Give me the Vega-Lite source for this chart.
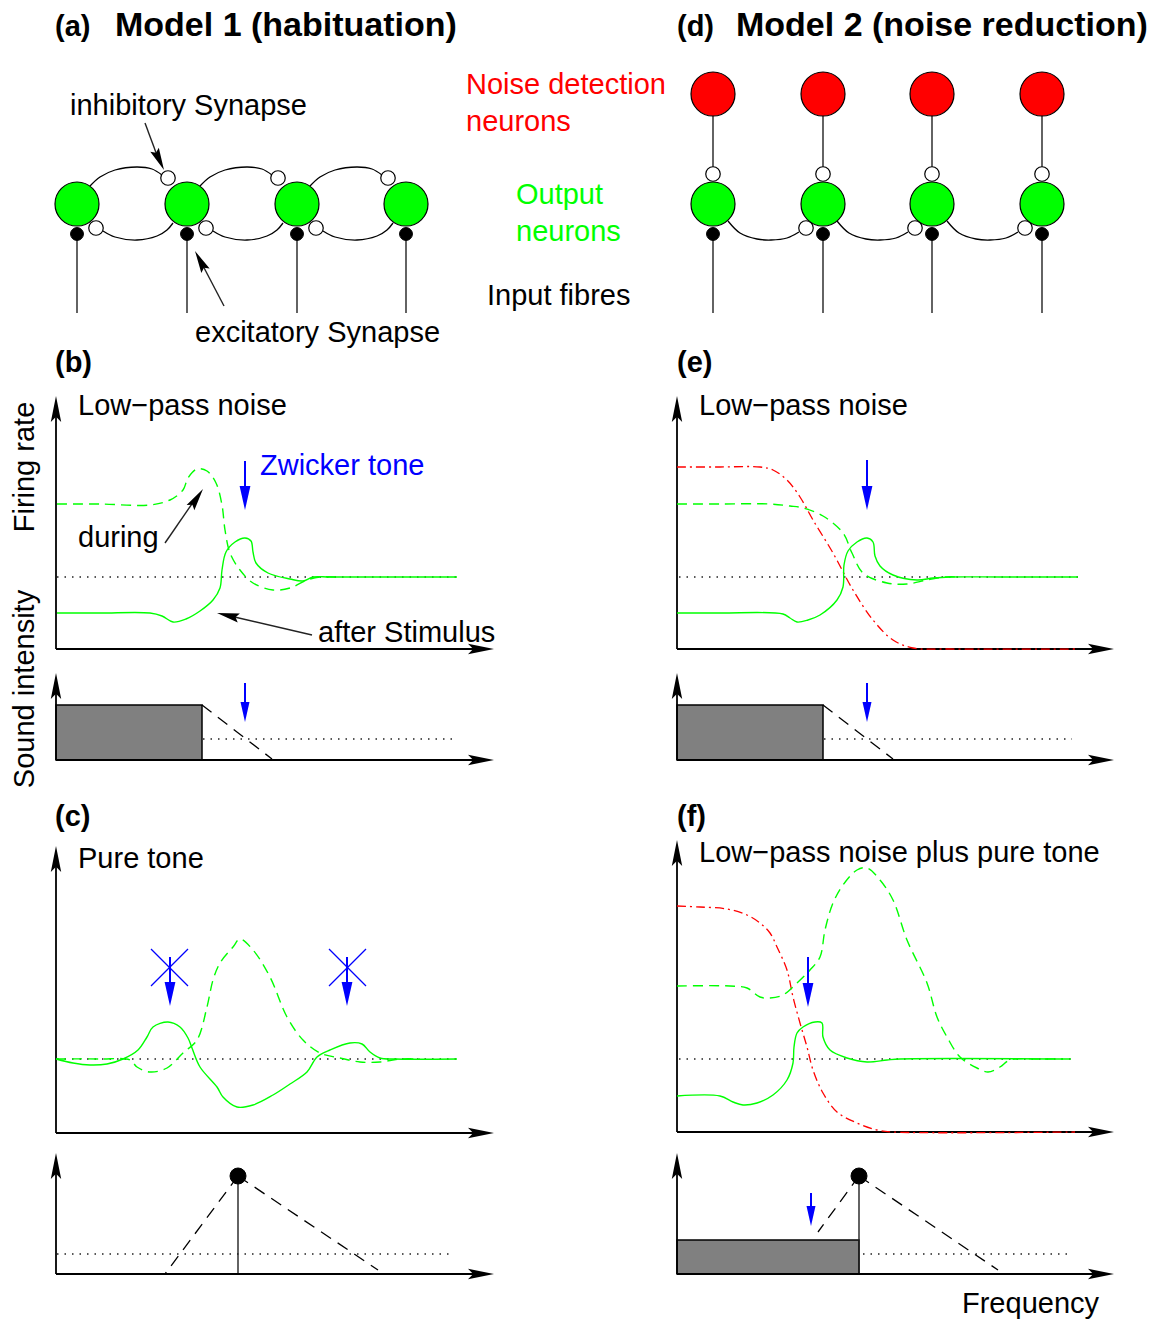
{
"$schema": "https://vega.github.io/schema/vega-lite/v6.json",
"width": 1151, "height": 1321, "padding": 0, "autosize": {"type": "none"},
"background": "white",
"config": {"view": {"stroke": null}},
"datasets": {
"rects": [
{"x":56,"x2":202,"y":705,"y2":760},
{"x":677,"x2":823,"y":705,"y2":760},
{"x":677,"x2":859,"y":1240,"y2":1274}
],
"lines": [
{"g":"f1","k":"wire","x":77,"y":234},{"g":"f1","k":"wire","x":77,"y":313},
{"g":"f2","k":"wire","x":187,"y":234},{"g":"f2","k":"wire","x":187,"y":313},
{"g":"f3","k":"wire","x":297,"y":234},{"g":"f3","k":"wire","x":297,"y":313},
{"g":"f4","k":"wire","x":406,"y":234},{"g":"f4","k":"wire","x":406,"y":313},
{"g":"f5","k":"wire","x":713,"y":234},{"g":"f5","k":"wire","x":713,"y":313},
{"g":"f6","k":"wire","x":823,"y":234},{"g":"f6","k":"wire","x":823,"y":313},
{"g":"f7","k":"wire","x":932,"y":234},{"g":"f7","k":"wire","x":932,"y":313},
{"g":"f8","k":"wire","x":1042,"y":234},{"g":"f8","k":"wire","x":1042,"y":313},
{"g":"s1","k":"wire","x":713,"y":94},{"g":"s1","k":"wire","x":713,"y":174},
{"g":"s2","k":"wire","x":823,"y":94},{"g":"s2","k":"wire","x":823,"y":174},
{"g":"s3","k":"wire","x":932,"y":94},{"g":"s3","k":"wire","x":932,"y":174},
{"g":"s4","k":"wire","x":1042,"y":94},{"g":"s4","k":"wire","x":1042,"y":174},
{"g":"pi","k":"wire","x":145,"y":123},{"g":"pi","k":"wire","x":158,"y":158},
{"g":"pe","k":"wire","x":224,"y":306},{"g":"pe","k":"wire","x":201,"y":262},
{"g":"pd","k":"wire","x":165,"y":543},{"g":"pd","k":"wire","x":196,"y":498},
{"g":"pa","k":"wire","x":312,"y":635},{"g":"pa","k":"wire","x":226,"y":615},
{"g":"pk1","k":"wire","x":238,"y":1176},{"g":"pk1","k":"wire","x":238,"y":1274},
{"g":"pk2","k":"wire","x":859,"y":1176},{"g":"pk2","k":"wire","x":859,"y":1274},
{"g":"ab1","k":"axis","x":56,"y":649},{"g":"ab1","k":"axis","x":56,"y":405},
{"g":"ab2","k":"axis","x":56,"y":649},{"g":"ab2","k":"axis","x":485,"y":649},
{"g":"ab3","k":"axis","x":56,"y":760},{"g":"ab3","k":"axis","x":56,"y":682},
{"g":"ab4","k":"axis","x":56,"y":760},{"g":"ab4","k":"axis","x":485,"y":760},
{"g":"ae1","k":"axis","x":677,"y":649},{"g":"ae1","k":"axis","x":677,"y":405},
{"g":"ae2","k":"axis","x":677,"y":649},{"g":"ae2","k":"axis","x":1105,"y":649},
{"g":"ae3","k":"axis","x":677,"y":760},{"g":"ae3","k":"axis","x":677,"y":682},
{"g":"ae4","k":"axis","x":677,"y":760},{"g":"ae4","k":"axis","x":1105,"y":760},
{"g":"ac1","k":"axis","x":56,"y":1133},{"g":"ac1","k":"axis","x":56,"y":855},
{"g":"ac2","k":"axis","x":56,"y":1133},{"g":"ac2","k":"axis","x":485,"y":1133},
{"g":"ac3","k":"axis","x":56,"y":1274},{"g":"ac3","k":"axis","x":56,"y":1162},
{"g":"ac4","k":"axis","x":56,"y":1274},{"g":"ac4","k":"axis","x":485,"y":1274},
{"g":"af1","k":"axis","x":677,"y":1132},{"g":"af1","k":"axis","x":677,"y":849},
{"g":"af2","k":"axis","x":677,"y":1132},{"g":"af2","k":"axis","x":1105,"y":1132},
{"g":"af3","k":"axis","x":677,"y":1274},{"g":"af3","k":"axis","x":677,"y":1162},
{"g":"af4","k":"axis","x":677,"y":1274},{"g":"af4","k":"axis","x":1105,"y":1274},
{"g":"t1","k":"arc","x":90,"y":186},{"g":"t1","k":"arc","x":100,"y":177},{"g":"t1","k":"arc","x":115,"y":170},{"g":"t1","k":"arc","x":137,"y":167},{"g":"t1","k":"arc","x":152,"y":169},{"g":"t1","k":"arc","x":162,"y":175},
{"g":"t2","k":"arc","x":200,"y":186},{"g":"t2","k":"arc","x":210,"y":177},{"g":"t2","k":"arc","x":225,"y":170},{"g":"t2","k":"arc","x":247,"y":167},{"g":"t2","k":"arc","x":262,"y":169},{"g":"t2","k":"arc","x":272,"y":175},
{"g":"t3","k":"arc","x":310,"y":186},{"g":"t3","k":"arc","x":320,"y":177},{"g":"t3","k":"arc","x":335,"y":170},{"g":"t3","k":"arc","x":357,"y":167},{"g":"t3","k":"arc","x":372,"y":169},{"g":"t3","k":"arc","x":382,"y":175},
{"g":"b1","k":"arc","x":103,"y":231},{"g":"b1","k":"arc","x":115,"y":237},{"g":"b1","k":"arc","x":137,"y":240},{"g":"b1","k":"arc","x":157,"y":236},{"g":"b1","k":"arc","x":167,"y":230},{"g":"b1","k":"arc","x":173,"y":223},
{"g":"b2","k":"arc","x":213,"y":231},{"g":"b2","k":"arc","x":225,"y":237},{"g":"b2","k":"arc","x":247,"y":240},{"g":"b2","k":"arc","x":267,"y":236},{"g":"b2","k":"arc","x":277,"y":230},{"g":"b2","k":"arc","x":283,"y":223},
{"g":"b3","k":"arc","x":323,"y":231},{"g":"b3","k":"arc","x":335,"y":237},{"g":"b3","k":"arc","x":357,"y":240},{"g":"b3","k":"arc","x":377,"y":236},{"g":"b3","k":"arc","x":387,"y":230},{"g":"b3","k":"arc","x":393,"y":223},
{"g":"r1","k":"arc","x":728,"y":221},{"g":"r1","k":"arc","x":740,"y":233},{"g":"r1","k":"arc","x":757,"y":239},{"g":"r1","k":"arc","x":771,"y":240},{"g":"r1","k":"arc","x":787,"y":238},{"g":"r1","k":"arc","x":799,"y":232},
{"g":"r2","k":"arc","x":837,"y":221},{"g":"r2","k":"arc","x":849,"y":233},{"g":"r2","k":"arc","x":866,"y":239},{"g":"r2","k":"arc","x":880,"y":240},{"g":"r2","k":"arc","x":896,"y":238},{"g":"r2","k":"arc","x":908,"y":232},
{"g":"r3","k":"arc","x":947,"y":221},{"g":"r3","k":"arc","x":959,"y":233},{"g":"r3","k":"arc","x":976,"y":239},{"g":"r3","k":"arc","x":990,"y":240},{"g":"r3","k":"arc","x":1006,"y":238},{"g":"r3","k":"arc","x":1018,"y":232},
{"g":"d1","k":"dot","x":57,"y":577},{"g":"d1","k":"dot","x":457,"y":577},
{"g":"d2","k":"dot","x":203,"y":739},{"g":"d2","k":"dot","x":452,"y":739},
{"g":"d3","k":"dot","x":679,"y":577},{"g":"d3","k":"dot","x":1078,"y":577},
{"g":"d4","k":"dot","x":824,"y":739},{"g":"d4","k":"dot","x":1072,"y":739},
{"g":"d5","k":"dot","x":57,"y":1059},{"g":"d5","k":"dot","x":457,"y":1059},
{"g":"d6","k":"dot","x":57,"y":1254},{"g":"d6","k":"dot","x":452,"y":1254},
{"g":"d7","k":"dot","x":679,"y":1059},{"g":"d7","k":"dot","x":1074,"y":1059},
{"g":"d8","k":"dot","x":863,"y":1254},{"g":"d8","k":"dot","x":1072,"y":1254},
{"g":"sl1","k":"slope","x":202,"y":705},{"g":"sl1","k":"slope","x":272,"y":759},
{"g":"sl2","k":"slope","x":823,"y":705},{"g":"sl2","k":"slope","x":893,"y":759},
{"g":"sl3","k":"slope","x":238,"y":1176},{"g":"sl3","k":"slope","x":165,"y":1274},
{"g":"sl4","k":"slope","x":238,"y":1176},{"g":"sl4","k":"slope","x":378,"y":1270},
{"g":"sl5","k":"slope","x":859,"y":1176},{"g":"sl5","k":"slope","x":818,"y":1232},
{"g":"sl6","k":"slope","x":859,"y":1176},{"g":"sl6","k":"slope","x":998,"y":1270},
{"g":"tn1","k":"tone","x":245,"y":461},{"g":"tn1","k":"tone","x":245,"y":490},
{"g":"tn2","k":"tone","x":245,"y":683},{"g":"tn2","k":"tone","x":245,"y":706},
{"g":"tn3","k":"tone","x":867,"y":460},{"g":"tn3","k":"tone","x":867,"y":490},
{"g":"tn4","k":"tone","x":867,"y":683},{"g":"tn4","k":"tone","x":867,"y":706},
{"g":"tn5","k":"tone","x":170,"y":957},{"g":"tn5","k":"tone","x":170,"y":988},
{"g":"tn6","k":"tone","x":347,"y":957},{"g":"tn6","k":"tone","x":347,"y":988},
{"g":"tn7","k":"tone","x":808,"y":957},{"g":"tn7","k":"tone","x":808,"y":988},
{"g":"tn8","k":"tone","x":811,"y":1193},{"g":"tn8","k":"tone","x":811,"y":1210},
{"g":"x1","k":"cross","x":151,"y":949},{"g":"x1","k":"cross","x":188,"y":986},
{"g":"x2","k":"cross","x":188,"y":949},{"g":"x2","k":"cross","x":151,"y":986},
{"g":"x3","k":"cross","x":329,"y":949},{"g":"x3","k":"cross","x":366,"y":986},
{"g":"x4","k":"cross","x":366,"y":949},{"g":"x4","k":"cross","x":329,"y":986},
{"g":"nE","k":"noise","x":677,"y":467},{"g":"nE","k":"noise","x":720,"y":467},{"g":"nE","k":"noise","x":760,"y":467},{"g":"nE","k":"noise","x":773,"y":470},{"g":"nE","k":"noise","x":787,"y":480},{"g":"nE","k":"noise","x":800,"y":497},{"g":"nE","k":"noise","x":813,"y":520},{"g":"nE","k":"noise","x":833,"y":553},{"g":"nE","k":"noise","x":853,"y":590},{"g":"nE","k":"noise","x":873,"y":620},{"g":"nE","k":"noise","x":893,"y":640},{"g":"nE","k":"noise","x":913,"y":648},{"g":"nE","k":"noise","x":950,"y":649},{"g":"nE","k":"noise","x":1078,"y":649},
{"g":"nF","k":"noise","x":677,"y":906},{"g":"nF","k":"noise","x":700,"y":907},{"g":"nF","k":"noise","x":727,"y":909},{"g":"nF","k":"noise","x":747,"y":915},{"g":"nF","k":"noise","x":760,"y":923},{"g":"nF","k":"noise","x":770,"y":933},{"g":"nF","k":"noise","x":777,"y":947},{"g":"nF","k":"noise","x":787,"y":970},{"g":"nF","k":"noise","x":793,"y":997},{"g":"nF","k":"noise","x":800,"y":1023},{"g":"nF","k":"noise","x":807,"y":1047},{"g":"nF","k":"noise","x":813,"y":1070},{"g":"nF","k":"noise","x":823,"y":1093},{"g":"nF","k":"noise","x":837,"y":1112},{"g":"nF","k":"noise","x":857,"y":1123},{"g":"nF","k":"noise","x":877,"y":1130},{"g":"nF","k":"noise","x":893,"y":1132},{"g":"nF","k":"noise","x":1075,"y":1132},
{"g":"dB","k":"during","x":57,"y":504},{"g":"dB","k":"during","x":100,"y":504},{"g":"dB","k":"during","x":150,"y":505},{"g":"dB","k":"during","x":170,"y":500},{"g":"dB","k":"during","x":183,"y":490},{"g":"dB","k":"during","x":188,"y":478},{"g":"dB","k":"during","x":197,"y":469},{"g":"dB","k":"during","x":207,"y":471},{"g":"dB","k":"during","x":216,"y":483},{"g":"dB","k":"during","x":222,"y":505},{"g":"dB","k":"during","x":225,"y":530},{"g":"dB","k":"during","x":230,"y":553},{"g":"dB","k":"during","x":240,"y":570},{"g":"dB","k":"during","x":253,"y":583},{"g":"dB","k":"during","x":273,"y":590},{"g":"dB","k":"during","x":290,"y":588},{"g":"dB","k":"during","x":307,"y":580},{"g":"dB","k":"during","x":320,"y":577},{"g":"dB","k":"during","x":335,"y":577},
{"g":"dE","k":"during","x":677,"y":504},{"g":"dE","k":"during","x":720,"y":504},{"g":"dE","k":"during","x":770,"y":504},{"g":"dE","k":"during","x":790,"y":506},{"g":"dE","k":"during","x":803,"y":508},{"g":"dE","k":"during","x":823,"y":516},{"g":"dE","k":"during","x":843,"y":533},{"g":"dE","k":"during","x":852,"y":553},{"g":"dE","k":"during","x":863,"y":573},{"g":"dE","k":"during","x":887,"y":583},{"g":"dE","k":"during","x":907,"y":584},{"g":"dE","k":"during","x":927,"y":580},{"g":"dE","k":"during","x":945,"y":577},{"g":"dE","k":"during","x":960,"y":577},
{"g":"dC","k":"during","x":56,"y":1059},{"g":"dC","k":"during","x":100,"y":1059},{"g":"dC","k":"during","x":130,"y":1060},{"g":"dC","k":"during","x":137,"y":1067},{"g":"dC","k":"during","x":150,"y":1072},{"g":"dC","k":"during","x":167,"y":1068},{"g":"dC","k":"during","x":183,"y":1053},{"g":"dC","k":"during","x":197,"y":1040},{"g":"dC","k":"during","x":207,"y":1007},{"g":"dC","k":"during","x":213,"y":980},{"g":"dC","k":"during","x":220,"y":963},{"g":"dC","k":"during","x":233,"y":947},{"g":"dC","k":"during","x":240,"y":939},{"g":"dC","k":"during","x":253,"y":950},{"g":"dC","k":"during","x":270,"y":977},{"g":"dC","k":"during","x":287,"y":1017},{"g":"dC","k":"during","x":303,"y":1040},{"g":"dC","k":"during","x":320,"y":1053},{"g":"dC","k":"during","x":340,"y":1058},{"g":"dC","k":"during","x":360,"y":1062},{"g":"dC","k":"during","x":380,"y":1062},{"g":"dC","k":"during","x":400,"y":1059},{"g":"dC","k":"during","x":420,"y":1059},
{"g":"dF","k":"during","x":677,"y":986},{"g":"dF","k":"during","x":730,"y":986},{"g":"dF","k":"during","x":747,"y":988},{"g":"dF","k":"during","x":760,"y":997},{"g":"dF","k":"during","x":770,"y":998},{"g":"dF","k":"during","x":783,"y":995},{"g":"dF","k":"during","x":797,"y":983},{"g":"dF","k":"during","x":810,"y":970},{"g":"dF","k":"during","x":820,"y":957},{"g":"dF","k":"during","x":825,"y":930},{"g":"dF","k":"during","x":833,"y":903},{"g":"dF","k":"during","x":843,"y":885},{"g":"dF","k":"during","x":857,"y":870},{"g":"dF","k":"during","x":867,"y":868},{"g":"dF","k":"during","x":880,"y":880},{"g":"dF","k":"during","x":893,"y":900},{"g":"dF","k":"during","x":907,"y":940},{"g":"dF","k":"during","x":927,"y":983},{"g":"dF","k":"during","x":937,"y":1017},{"g":"dF","k":"during","x":947,"y":1037},{"g":"dF","k":"during","x":960,"y":1057},{"g":"dF","k":"during","x":977,"y":1068},{"g":"dF","k":"during","x":988,"y":1072},{"g":"dF","k":"during","x":1000,"y":1067},{"g":"dF","k":"during","x":1010,"y":1060},{"g":"dF","k":"during","x":1040,"y":1059},{"g":"dF","k":"during","x":1075,"y":1059},
{"g":"aB","k":"after","x":57,"y":613},{"g":"aB","k":"after","x":100,"y":613},{"g":"aB","k":"after","x":150,"y":613},{"g":"aB","k":"after","x":162,"y":616},{"g":"aB","k":"after","x":173,"y":622},{"g":"aB","k":"after","x":186,"y":619},{"g":"aB","k":"after","x":200,"y":611},{"g":"aB","k":"after","x":213,"y":600},{"g":"aB","k":"after","x":220,"y":588},{"g":"aB","k":"after","x":222,"y":570},{"g":"aB","k":"after","x":226,"y":552},{"g":"aB","k":"after","x":235,"y":542},{"g":"aB","k":"after","x":245,"y":538},{"g":"aB","k":"after","x":251,"y":541},{"g":"aB","k":"after","x":253,"y":552},{"g":"aB","k":"after","x":256,"y":563},{"g":"aB","k":"after","x":268,"y":573},{"g":"aB","k":"after","x":290,"y":579},{"g":"aB","k":"after","x":303,"y":581},{"g":"aB","k":"after","x":313,"y":577},{"g":"aB","k":"after","x":330,"y":577},{"g":"aB","k":"after","x":400,"y":577},{"g":"aB","k":"after","x":457,"y":577},
{"g":"aE","k":"after","x":677,"y":613},{"g":"aE","k":"after","x":720,"y":613},{"g":"aE","k":"after","x":783,"y":614},{"g":"aE","k":"after","x":790,"y":618},{"g":"aE","k":"after","x":797,"y":622},{"g":"aE","k":"after","x":808,"y":620},{"g":"aE","k":"after","x":820,"y":615},{"g":"aE","k":"after","x":837,"y":600},{"g":"aE","k":"after","x":843,"y":587},{"g":"aE","k":"after","x":844,"y":565},{"g":"aE","k":"after","x":848,"y":551},{"g":"aE","k":"after","x":857,"y":542},{"g":"aE","k":"after","x":867,"y":538},{"g":"aE","k":"after","x":873,"y":542},{"g":"aE","k":"after","x":875,"y":556},{"g":"aE","k":"after","x":880,"y":566},{"g":"aE","k":"after","x":893,"y":575},{"g":"aE","k":"after","x":917,"y":580},{"g":"aE","k":"after","x":933,"y":578},{"g":"aE","k":"after","x":950,"y":577},{"g":"aE","k":"after","x":1000,"y":577},{"g":"aE","k":"after","x":1078,"y":577},
{"g":"aC","k":"after","x":56,"y":1059},{"g":"aC","k":"after","x":73,"y":1063},{"g":"aC","k":"after","x":90,"y":1065},{"g":"aC","k":"after","x":107,"y":1064},{"g":"aC","k":"after","x":123,"y":1059},{"g":"aC","k":"after","x":138,"y":1050},{"g":"aC","k":"after","x":147,"y":1037},{"g":"aC","k":"after","x":153,"y":1027},{"g":"aC","k":"after","x":168,"y":1022},{"g":"aC","k":"after","x":180,"y":1027},{"g":"aC","k":"after","x":188,"y":1038},{"g":"aC","k":"after","x":192,"y":1048},{"g":"aC","k":"after","x":200,"y":1067},{"g":"aC","k":"after","x":217,"y":1087},{"g":"aC","k":"after","x":223,"y":1097},{"g":"aC","k":"after","x":237,"y":1107},{"g":"aC","k":"after","x":253,"y":1105},{"g":"aC","k":"after","x":273,"y":1095},{"g":"aC","k":"after","x":290,"y":1084},{"g":"aC","k":"after","x":307,"y":1072},{"g":"aC","k":"after","x":317,"y":1057},{"g":"aC","k":"after","x":330,"y":1050},{"g":"aC","k":"after","x":350,"y":1043},{"g":"aC","k":"after","x":362,"y":1044},{"g":"aC","k":"after","x":370,"y":1052},{"g":"aC","k":"after","x":380,"y":1058},{"g":"aC","k":"after","x":395,"y":1059},{"g":"aC","k":"after","x":457,"y":1059},
{"g":"aF","k":"after","x":677,"y":1096},{"g":"aF","k":"after","x":720,"y":1096},{"g":"aF","k":"after","x":733,"y":1102},{"g":"aF","k":"after","x":743,"y":1105},{"g":"aF","k":"after","x":757,"y":1103},{"g":"aF","k":"after","x":773,"y":1095},{"g":"aF","k":"after","x":787,"y":1080},{"g":"aF","k":"after","x":793,"y":1063},{"g":"aF","k":"after","x":794,"y":1047},{"g":"aF","k":"after","x":797,"y":1033},{"g":"aF","k":"after","x":803,"y":1027},{"g":"aF","k":"after","x":815,"y":1022},{"g":"aF","k":"after","x":822,"y":1023},{"g":"aF","k":"after","x":823,"y":1037},{"g":"aF","k":"after","x":830,"y":1050},{"g":"aF","k":"after","x":847,"y":1058},{"g":"aF","k":"after","x":867,"y":1062},{"g":"aF","k":"after","x":887,"y":1060},{"g":"aF","k":"after","x":900,"y":1059},{"g":"aF","k":"after","x":1063,"y":1059}
],
"nodes": [
{"k":"output","x":77,"y":204},{"k":"output","x":187,"y":204},{"k":"output","x":297,"y":204},{"k":"output","x":406,"y":204},
{"k":"output","x":713,"y":204},{"k":"output","x":823,"y":204},{"k":"output","x":932,"y":204},{"k":"output","x":1042,"y":204},
{"k":"noise","x":713,"y":94},{"k":"noise","x":823,"y":94},{"k":"noise","x":932,"y":94},{"k":"noise","x":1042,"y":94},
{"k":"inhib","x":168,"y":178},{"k":"inhib","x":278,"y":178},{"k":"inhib","x":388,"y":178},
{"k":"inhib","x":96,"y":228},{"k":"inhib","x":206,"y":228},{"k":"inhib","x":316,"y":228},
{"k":"inhib","x":713,"y":174},{"k":"inhib","x":823,"y":174},{"k":"inhib","x":932,"y":174},{"k":"inhib","x":1042,"y":174},
{"k":"inhib","x":806,"y":228},{"k":"inhib","x":915,"y":228},{"k":"inhib","x":1025,"y":228},
{"k":"excit","x":77,"y":234},{"k":"excit","x":187,"y":234},{"k":"excit","x":297,"y":234},{"k":"excit","x":406,"y":234},
{"k":"excit","x":713,"y":234},{"k":"excit","x":823,"y":234},{"k":"excit","x":932,"y":234},{"k":"excit","x":1042,"y":234},
{"k":"peak","x":238,"y":1176},{"k":"peak","x":859,"y":1176}
],
"heads": [
{"k":"up","x":56,"y":396},{"k":"up","x":56,"y":673},{"k":"up","x":677,"y":396},{"k":"up","x":677,"y":673},
{"k":"up","x":56,"y":846},{"k":"up","x":56,"y":1153},{"k":"up","x":677,"y":840},{"k":"up","x":677,"y":1153},
{"k":"right","x":494,"y":649},{"k":"right","x":494,"y":760},{"k":"right","x":1114,"y":649},{"k":"right","x":1114,"y":760},
{"k":"right","x":494,"y":1133},{"k":"right","x":494,"y":1274},{"k":"right","x":1114,"y":1132},{"k":"right","x":1114,"y":1274},
{"k":"tone","x":245,"y":510},{"k":"tone","x":867,"y":510},{"k":"tone","x":170,"y":1006},{"k":"tone","x":347,"y":1006},{"k":"tone","x":808,"y":1007},
{"k":"tonesm","x":245,"y":722},{"k":"tonesm","x":867,"y":722},{"k":"tonesm","x":811,"y":1226},
{"k":"pinh","x":164,"y":170},{"k":"pexc","x":195,"y":251},{"k":"pdur","x":203,"y":489},{"k":"paft","x":217,"y":613}
],
"texts": [
{"k":"label","x":55,"y":36,"t":"(a)"},{"k":"label","x":677,"y":36,"t":"(d)"},
{"k":"label","x":55,"y":372,"t":"(b)"},{"k":"label","x":677,"y":372,"t":"(e)"},
{"k":"label","x":55,"y":826,"t":"(c)"},{"k":"label","x":677,"y":826,"t":"(f)"},
{"k":"title","x":115,"y":36,"t":"Model 1 (habituation)"},{"k":"title","x":736,"y":36,"t":"Model 2 (noise reduction)"},
{"k":"body","x":70,"y":115,"t":"inhibitory Synapse"},
{"k":"body","x":195,"y":342,"t":"excitatory Synapse"},
{"k":"body","x":487,"y":305,"t":"Input fibres"},
{"k":"body","x":78,"y":415,"t":"Low−pass noise"},{"k":"body","x":699,"y":415,"t":"Low−pass noise"},
{"k":"body","x":78,"y":547,"t":"during"},
{"k":"body","x":318,"y":642,"t":"after Stimulus"},
{"k":"body","x":78,"y":868,"t":"Pure tone"},
{"k":"body","x":699,"y":862,"t":"Low−pass noise plus pure tone"},
{"k":"body","x":962,"y":1313,"t":"Frequency"},
{"k":"red","x":466,"y":94,"t":"Noise detection"},{"k":"red","x":466,"y":131,"t":"neurons"},
{"k":"green","x":516,"y":204,"t":"Output"},{"k":"green","x":516,"y":241,"t":"neurons"},
{"k":"blue","x":260,"y":475,"t":"Zwicker tone"},
{"k":"vert","x":34,"y":467,"t":"Firing rate"},{"k":"vert","x":34,"y":689,"t":"Sound intensity"}
]
},
"encoding": {
"x": {"field":"x","type":"quantitative","scale":{"domain":[0,1151],"nice":false,"zero":false},"axis":null},
"y": {"field":"y","type":"quantitative","scale":{"domain":[0,1321],"nice":false,"zero":false,"reverse":true},"axis":null}
},
"layer": [
{"data":{"name":"rects"},"mark":{"type":"rect","fill":"#808080","stroke":"black","strokeWidth":1.5},
 "encoding":{"x2":{"field":"x2"},"y2":{"field":"y2"}}},
{"data":{"name":"lines"},"transform":[{"filter":"datum.k==='dot'"}],
 "mark":{"type":"line","stroke":"#222222","strokeWidth":1.5,"strokeDash":[1.5,6]},
 "encoding":{"detail":{"field":"g","type":"nominal"},"order":{"value":null}}},
{"data":{"name":"lines"},"transform":[{"filter":"datum.k==='slope'"}],
 "mark":{"type":"line","stroke":"black","strokeWidth":1.3,"strokeDash":[12,8]},
 "encoding":{"detail":{"field":"g","type":"nominal"},"order":{"value":null}}},
{"data":{"name":"lines"},"transform":[{"filter":"datum.k==='wire'"}],
 "mark":{"type":"line","stroke":"#222222","strokeWidth":1.4},
 "encoding":{"detail":{"field":"g","type":"nominal"},"order":{"value":null}}},
{"data":{"name":"lines"},"transform":[{"filter":"datum.k==='axis'"}],
 "mark":{"type":"line","stroke":"black","strokeWidth":1.8},
 "encoding":{"detail":{"field":"g","type":"nominal"},"order":{"value":null}}},
{"data":{"name":"lines"},"transform":[{"filter":"datum.k==='arc'"}],
 "mark":{"type":"line","stroke":"black","strokeWidth":1.3,"interpolate":"catmull-rom"},
 "encoding":{"detail":{"field":"g","type":"nominal"},"order":{"value":null}}},
{"data":{"name":"lines"},"transform":[{"filter":"datum.k==='noise'"}],
 "mark":{"type":"line","stroke":"#ff0000","strokeWidth":1.3,"strokeDash":[9,4,2,4],"interpolate":"catmull-rom"},
 "encoding":{"detail":{"field":"g","type":"nominal"},"order":{"value":null}}},
{"data":{"name":"lines"},"transform":[{"filter":"datum.k==='during'"}],
 "mark":{"type":"line","stroke":"#00ff00","strokeWidth":1.4,"strokeDash":[10,6],"interpolate":"catmull-rom"},
 "encoding":{"detail":{"field":"g","type":"nominal"},"order":{"value":null}}},
{"data":{"name":"lines"},"transform":[{"filter":"datum.k==='after'"}],
 "mark":{"type":"line","stroke":"#00ff00","strokeWidth":1.4,"interpolate":"catmull-rom"},
 "encoding":{"detail":{"field":"g","type":"nominal"},"order":{"value":null}}},
{"data":{"name":"lines"},"transform":[{"filter":"datum.k==='tone'"}],
 "mark":{"type":"line","stroke":"#0000ff","strokeWidth":2},
 "encoding":{"detail":{"field":"g","type":"nominal"},"order":{"value":null}}},
{"data":{"name":"lines"},"transform":[{"filter":"datum.k==='cross'"}],
 "mark":{"type":"line","stroke":"#0000ff","strokeWidth":1.2},
 "encoding":{"detail":{"field":"g","type":"nominal"},"order":{"value":null}}},
{"data":{"name":"nodes"},"transform":[{"filter":"datum.k==='output'"}],
 "mark":{"type":"point","shape":"circle","filled":true,"fill":"#00ff00","stroke":"black","strokeWidth":1.2,"size":1936,"opacity":1}},
{"data":{"name":"nodes"},"transform":[{"filter":"datum.k==='noise'"}],
 "mark":{"type":"point","shape":"circle","filled":true,"fill":"#ff0000","stroke":"black","strokeWidth":1.2,"size":1936,"opacity":1}},
{"data":{"name":"nodes"},"transform":[{"filter":"datum.k==='inhib'"}],
 "mark":{"type":"point","shape":"circle","filled":true,"fill":"white","stroke":"black","strokeWidth":1.2,"size":210,"opacity":1}},
{"data":{"name":"nodes"},"transform":[{"filter":"datum.k==='excit'"}],
 "mark":{"type":"point","shape":"circle","filled":true,"fill":"black","stroke":"black","strokeWidth":1,"size":165,"opacity":1}},
{"data":{"name":"nodes"},"transform":[{"filter":"datum.k==='peak'"}],
 "mark":{"type":"point","shape":"circle","filled":true,"fill":"black","stroke":"black","strokeWidth":1,"size":256,"opacity":1}},
{"data":{"name":"heads"},"transform":[{"filter":"datum.k==='up'"}],
 "mark":{"type":"point","shape":"M0,0L0.4,2L0,1.6L-0.4,2Z","filled":true,"fill":"black","strokeWidth":0,"size":676,"opacity":1}},
{"data":{"name":"heads"},"transform":[{"filter":"datum.k==='right'"}],
 "mark":{"type":"point","shape":"M0,0L0.4,2L0,1.6L-0.4,2Z","filled":true,"fill":"black","strokeWidth":0,"size":676,"angle":90,"opacity":1}},
{"data":{"name":"heads"},"transform":[{"filter":"datum.k==='tone'"}],
 "mark":{"type":"point","shape":"M0,0L0.45,-2L-0.45,-2Z","filled":true,"fill":"#0000ff","strokeWidth":0,"size":576,"opacity":1}},
{"data":{"name":"heads"},"transform":[{"filter":"datum.k==='tonesm'"}],
 "mark":{"type":"point","shape":"M0,0L0.45,-2L-0.45,-2Z","filled":true,"fill":"#0000ff","strokeWidth":0,"size":400,"opacity":1}},
{"data":{"name":"heads"},"transform":[{"filter":"datum.k==='pinh'"}],
 "mark":{"type":"point","shape":"M0,0L0.42,2L0,1.7L-0.42,2Z","filled":true,"fill":"black","strokeWidth":0,"size":500,"angle":155,"opacity":1}},
{"data":{"name":"heads"},"transform":[{"filter":"datum.k==='pexc'"}],
 "mark":{"type":"point","shape":"M0,0L0.42,2L0,1.7L-0.42,2Z","filled":true,"fill":"black","strokeWidth":0,"size":500,"angle":332,"opacity":1}},
{"data":{"name":"heads"},"transform":[{"filter":"datum.k==='pdur'"}],
 "mark":{"type":"point","shape":"M0,0L0.42,2L0,1.7L-0.42,2Z","filled":true,"fill":"black","strokeWidth":0,"size":500,"angle":34,"opacity":1}},
{"data":{"name":"heads"},"transform":[{"filter":"datum.k==='paft'"}],
 "mark":{"type":"point","shape":"M0,0L0.42,2L0,1.7L-0.42,2Z","filled":true,"fill":"black","strokeWidth":0,"size":500,"angle":283,"opacity":1}},
{"data":{"name":"texts"},"transform":[{"filter":"datum.k==='label'"}],
 "mark":{"type":"text","font":"Liberation Sans","fontWeight":"bold","fontSize":29,"align":"left","baseline":"alphabetic","color":"black"},
 "encoding":{"text":{"field":"t"}}},
{"data":{"name":"texts"},"transform":[{"filter":"datum.k==='title'"}],
 "mark":{"type":"text","font":"Liberation Sans","fontWeight":"bold","fontSize":34,"align":"left","baseline":"alphabetic","color":"black"},
 "encoding":{"text":{"field":"t"}}},
{"data":{"name":"texts"},"transform":[{"filter":"datum.k==='body'"}],
 "mark":{"type":"text","font":"Liberation Sans","fontSize":29,"align":"left","baseline":"alphabetic","color":"black"},
 "encoding":{"text":{"field":"t"}}},
{"data":{"name":"texts"},"transform":[{"filter":"datum.k==='red'"}],
 "mark":{"type":"text","font":"Liberation Sans","fontSize":29,"align":"left","baseline":"alphabetic","color":"#ff0000"},
 "encoding":{"text":{"field":"t"}}},
{"data":{"name":"texts"},"transform":[{"filter":"datum.k==='green'"}],
 "mark":{"type":"text","font":"Liberation Sans","fontSize":29,"align":"left","baseline":"alphabetic","color":"#00ff00"},
 "encoding":{"text":{"field":"t"}}},
{"data":{"name":"texts"},"transform":[{"filter":"datum.k==='blue'"}],
 "mark":{"type":"text","font":"Liberation Sans","fontSize":29,"align":"left","baseline":"alphabetic","color":"#0000ff"},
 "encoding":{"text":{"field":"t"}}},
{"data":{"name":"texts"},"transform":[{"filter":"datum.k==='vert'"}],
 "mark":{"type":"text","font":"Liberation Sans","fontSize":29,"align":"center","baseline":"alphabetic","angle":270,"color":"black"},
 "encoding":{"text":{"field":"t"}}}
]
}
